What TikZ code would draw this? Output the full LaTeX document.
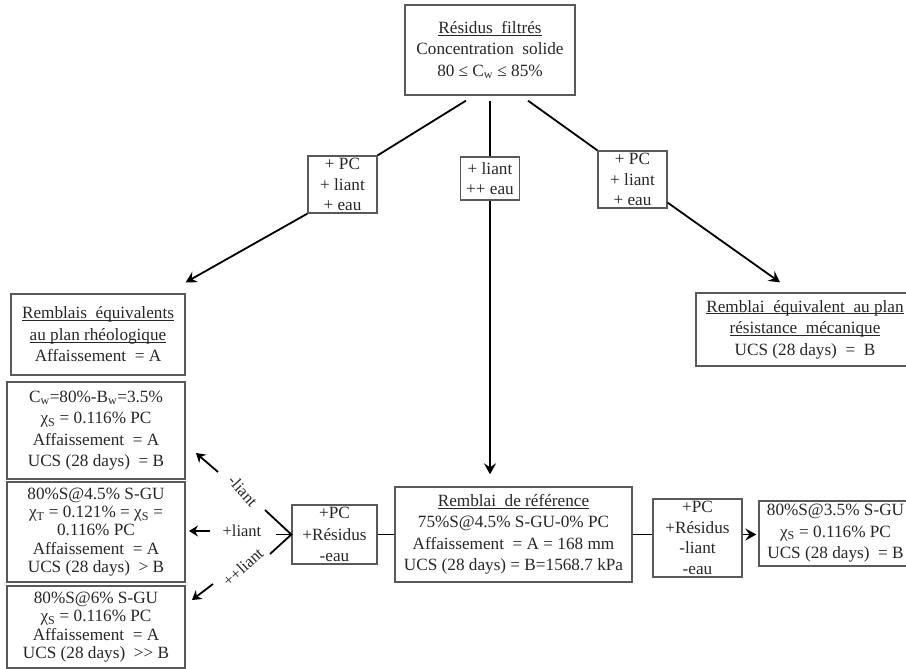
\documentclass[tikz,border=0pt]{standalone}
\usepackage{fontspec}
\setmainfont{Liberation Serif}
\usetikzlibrary{arrows.meta,calc}

% underline set just under the baseline, through the descenders
\newcommand\undl[1]{\setbox0\hbox{#1}\rlap{\rule[-2.2pt]{\wd0}{0.9pt}}\box0}

\tikzset{
  box/.style={draw=black!65, line width=1.3pt, align=center, inner sep=0pt,
    font=\fontsize{17.2}{21.5}\selectfont, text=black!85},
  tight/.style={font=\fontsize{17.2}{18.4}\selectfont},
  addbox/.style={font=\fontsize{17.2}{20.5}\selectfont},
  lbl/.style={inner sep=0pt, font=\fontsize{16.5}{18}\selectfont, text=black!85},
  link/.style={line width=1.8pt},
  arr/.style={link, -{Stealth[length=11pt,width=12pt,inset=4pt]}},
  smallarr/.style={line width=1.8pt, -{Stealth[length=9pt,width=11pt,inset=3pt]}},
}

\begin{document}
\begin{tikzpicture}[x=1pt, y=-1pt]
  \useasboundingbox (0,0) rectangle (906,669);

  % starting material and the three ways of adjusting it
  \node[box, minimum width=170pt, minimum height=90pt] (filt) at (490,50)
    {\undl{Résidus~ filtrés}\\Concentration~ solide\\80 ≤ C\textsubscript{w} ≤ 85\%};
  \node[box, addbox, minimum width=69pt, minimum height=57pt] (addL) at (342.5,184.5)
    {+ PC\\+ liant\\+ eau};
  \node[box, addbox, minimum width=59pt, minimum height=43pt] (addM) at (490,178.5)
    {+ liant\\++ eau};
  \node[box, addbox, minimum width=69pt, minimum height=57pt] (addR) at (632.5,179.5)
    {+ PC\\+ liant\\+ eau};

  % left column
  \node[box, minimum width=174pt, minimum height=81pt] (rheo) at (98,334.5)
    {\undl{Remblais~ équivalents}\\\undl{au plan rhéologique}\\Affaissement~ = A};
  \node[box, minimum width=178pt, minimum height=97pt] (cw) at (96,430.5)
    {C\textsubscript{w}=80\%-B\textsubscript{w}=3.5\%\\χ\textsubscript{S} = 0.116\% PC\\Affaissement~ = A\\UCS (28 days)~ = B};
  \node[box, tight, minimum width=178pt, minimum height=100pt] (s45) at (96,532)
    {80\%S@4.5\% S-GU\\χ\textsubscript{T} = 0.121\% = χ\textsubscript{S} =\\0.116\% PC\\Affaissement~ = A\\UCS (28 days)~ > B};
  \node[box, tight, minimum width=178pt, minimum height=82pt] (s6) at (96,627)
    {80\%S@6\% S-GU\\χ\textsubscript{S} = 0.116\% PC\\Affaissement~ = A\\UCS (28 days)~ >{}> B};

  % right
  \node[box, minimum width=218pt, minimum height=73pt] (mec) at (805,329.5)
    {\undl{Remblai~ équivalent~ au plan}\\\undl{résistance~ mécanique}\\UCS (28 days)~ = ~B};

  % bottom row
  \node[box, minimum width=85pt, minimum height=59pt] (mixA) at (334.5,534.5)
    {+PC\\+Résidus\\-eau};
  \node[box, minimum width=237pt, minimum height=95pt] (ref) at (513.5,534.5)
    {\undl{Remblai~ de référence}\\75\%S@4.5\% S-GU-0\% PC\\Affaissement~ = A = 168 mm\\UCS (28 days) = B=1568.7 kPa};
  \node[box, addbox, minimum width=89pt, minimum height=78pt] (mixB) at (697.5,538)
    {+PC\\+Résidus\\-liant\\-eau};
  \node[box, minimum width=153pt, minimum height=65pt] (res) at (835.5,533.5)
    {80\%S@3.5\% S-GU\\χ\textsubscript{S} = 0.116\% PC\\UCS (28 days)~ = B};

  % small labels of the binder branches
  \node[lbl, rotate=-48] (minus) at (243,491) {-liant};
  \node[lbl] (plus) at (242,531) {+liant};
  \node[lbl, rotate=42] (pplus) at (243,567) {++liant};

  % free ends
  \coordinate (tipL) at ($(rheo.north east)+(0,-11)$);
  \coordinate (tipM) at ($(addM.south |- ref.north)+(0,-12)$);
  \coordinate (tipR) at ($(mec.north)+(-25,-10)$);
  \coordinate (forkU) at (265,510);
  \coordinate (forkC) at (276,534.5);
  \coordinate (forkD) at (270,554);
  \coordinate (mFrom) at (218,472);
  \coordinate (mTo) at (196,453);
  \coordinate (pFrom) at (210,531);
  \coordinate (pTo) at (189,531);
  \coordinate (ppFrom) at (213,584);
  \coordinate (ppTo) at (192,600);

  % connectors
  \draw[link] ($(filt.south)+(-24,5)$) -- (addL.north east);
  \draw[arr] (addL.south west) -- (tipL);
  \draw[link] ($(filt.south)+(0,5)$) -- (addM.north);
  \draw[arr] (addM.south) -- (tipM);
  \draw[link] ($(filt.south)+(38,5)$) -- (addR.north west);
  \draw[arr] ($(addR.south east)+(0,-6)$) -- (tipR);

  \draw[link] (mixA) -- (ref);
  \draw[link] (ref.east) -- (ref.east -| mixB.west);
  \draw[arr] (ref.east -| mixB.east) -- ($(ref.east -| res.west)+(-2,0)$);

  \draw[link] (forkU) -- (mixA.west) -- (forkD);
  \draw[link] (forkC) -- (mixA.west);
  \draw[smallarr] (mFrom) -- (mTo);
  \draw[smallarr] (pFrom) -- (pTo);
  \draw[smallarr] (ppFrom) -- (ppTo);
\end{tikzpicture}
\end{document}
